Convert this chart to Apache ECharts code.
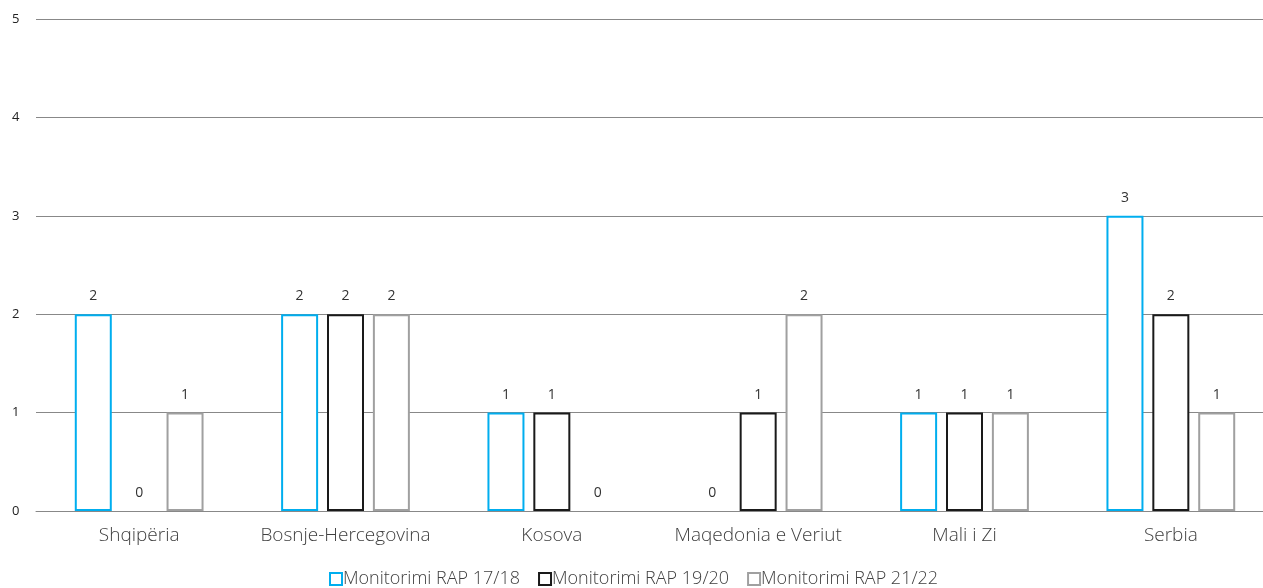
<!DOCTYPE html>
<html><head><meta charset="utf-8">
<script src="https://cdn.jsdelivr.net/npm/echarts@6/dist/echarts.min.js"></script>
<style>html,body{margin:0;padding:0;background:#fff}#c{width:1263px;height:588px}</style>
</head><body><div id="c"></div>
<script>
const categories = ['Shqipëria','Bosnje-Hercegovina','Kosova','Maqedonia e Veriut','Mali i Zi','Serbia'];
const seriesNames = ['Monitorimi RAP 17/18','Monitorimi RAP 19/20','Monitorimi RAP 21/22'];
const rap1718 = [2,2,1,0,1,3];
const rap1920 = [0,2,1,1,1,2];
const rap2122 = [1,2,0,2,1,1];
const yTicks = [0,1,2,3,4,5];
const colors = ['#00AEEF','#1a1a1a','#A0A0A0'];

const font = '"Open Sans", sans-serif';
function mk(name, vals, color){
  return {
    name, type:'bar', barWidth:37, barGap:'24%',
    data: vals.map(v => v === 0 ? {value:v, itemStyle:{borderWidth:0, color:'rgba(0,0,0,0)'}} : v),
    itemStyle:{color:'#fff', borderColor:color, borderWidth:2},
    label:{show:true, position:'top', distance:11, color:'#333', fontSize:14, fontFamily:font},
    emphasis:{disabled:true}
  };
}
const chart = echarts.init(document.getElementById('c'));
chart.setOption({
  animation:false,
  textStyle:{fontFamily:font},
  grid:{left:36, width:1238, top:19, bottom:77, outerBoundsMode:'none', containLabel:false},
  legend:{bottom:-5, left:324, icon:'rect', itemWidth:12, itemHeight:12, itemGap:18,
    textStyle:{fontSize:18, color:'#404040', fontFamily:font, fontWeight:300, padding:[0,0,0,-4]},
    data:seriesNames},
  xAxis:{type:'category', data:categories, axisTick:{show:false},
    axisLine:{lineStyle:{color:'#888'}},
    axisLabel:{interval:0, fontSize:19, color:'#404040', margin:15, fontFamily:font, fontWeight:300}},
  yAxis:{type:'value', min:yTicks[0], max:yTicks[yTicks.length-1], interval:1,
    axisLabel:{fontSize:13, color:'#222', margin:24, align:'left', fontFamily:font},
    splitLine:{lineStyle:{color:'#888', width:1}}},
  series:[mk(seriesNames[0], rap1718, colors[0]), mk(seriesNames[1], rap1920, colors[1]), mk(seriesNames[2], rap2122, colors[2])]
});
</script></body></html>
